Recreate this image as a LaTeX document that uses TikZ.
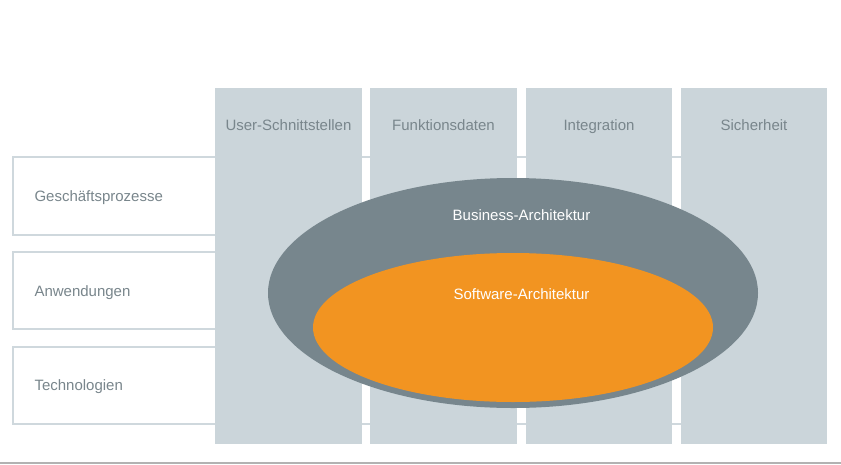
\documentclass[tikz,border=0pt]{standalone}
\usepackage{fontspec}
\setmainfont{Liberation Sans}

\definecolor{saeule}{HTML}{CBD5DA}
\definecolor{rahmen}{HTML}{CFD8DD}
\definecolor{textgrau}{HTML}{79868C}
\definecolor{business}{HTML}{77868D}
\definecolor{software}{HTML}{F29421}

\tikzset{
    zeile/.style={fill=white, draw=rahmen, line width=1.6pt},
    saeule/.style={fill=saeule, draw=none},
    beschriftung/.style={text=textgrau, font=\fontsize{15}{18}\selectfont, anchor=base},
    ellipsentext/.style={text=white, font=\fontsize{15}{18}\selectfont, anchor=base}
}

\begin{document}
\begin{tikzpicture}[x=1pt, y=-1pt]  % Pixelkoordinaten, y nach unten

    % Rahmen des Bildes
    \useasboundingbox (0,0) rectangle (841,464);

    % Zeilen (liegen hinter den Saeulen)
    \filldraw[zeile] (13,157) rectangle (825,235);
    \filldraw[zeile] (13,252) rectangle (825,329);
    \filldraw[zeile] (13,347) rectangle (825,424);

    % Vier Saeulen
    \fill[saeule] (215,88) rectangle (362,444);
    \fill[saeule] (370,88) rectangle (517,444);
    \fill[saeule] (526,88) rectangle (672,444);
    \fill[saeule] (681,88) rectangle (827,444);

    % Ellipsen
    \fill[business] (513,293) ellipse [x radius=245, y radius=115];
    \fill[software] (513,327.5) ellipse [x radius=200, y radius=74.5];

    % Linie am unteren Rand
    \draw[gray!60, line width=1.2pt] (0,463) -- (841,463);

    % Beschriftung der Saeulen
    \node[beschriftung] (user) at (288.5,130) {User-Schnittstellen};
    \node[beschriftung] (funktion) at (443.5,130) {Funktionsdaten};
    \node[beschriftung] (integration) at (599,130) {Integration};
    \node[beschriftung] (sicherheit) at (754,130) {Sicherheit};

    % Beschriftung der Zeilen
    \node[beschriftung, anchor=base west] (prozesse) at (31,201.5) {Geschäftsprozesse};
    \node[beschriftung, anchor=base west] (anwendungen) at (31,296.5) {Anwendungen};
    \node[beschriftung, anchor=base west] (technologien) at (31,390.5) {Technologien};

    % Beschriftung der Ellipsen
    \node[ellipsentext] (busarch) at (521.5,220) {Business-Architektur};
    \node[ellipsentext] (softarch) at (521.5,299) {Software-Architektur};

\end{tikzpicture}
\end{document}
